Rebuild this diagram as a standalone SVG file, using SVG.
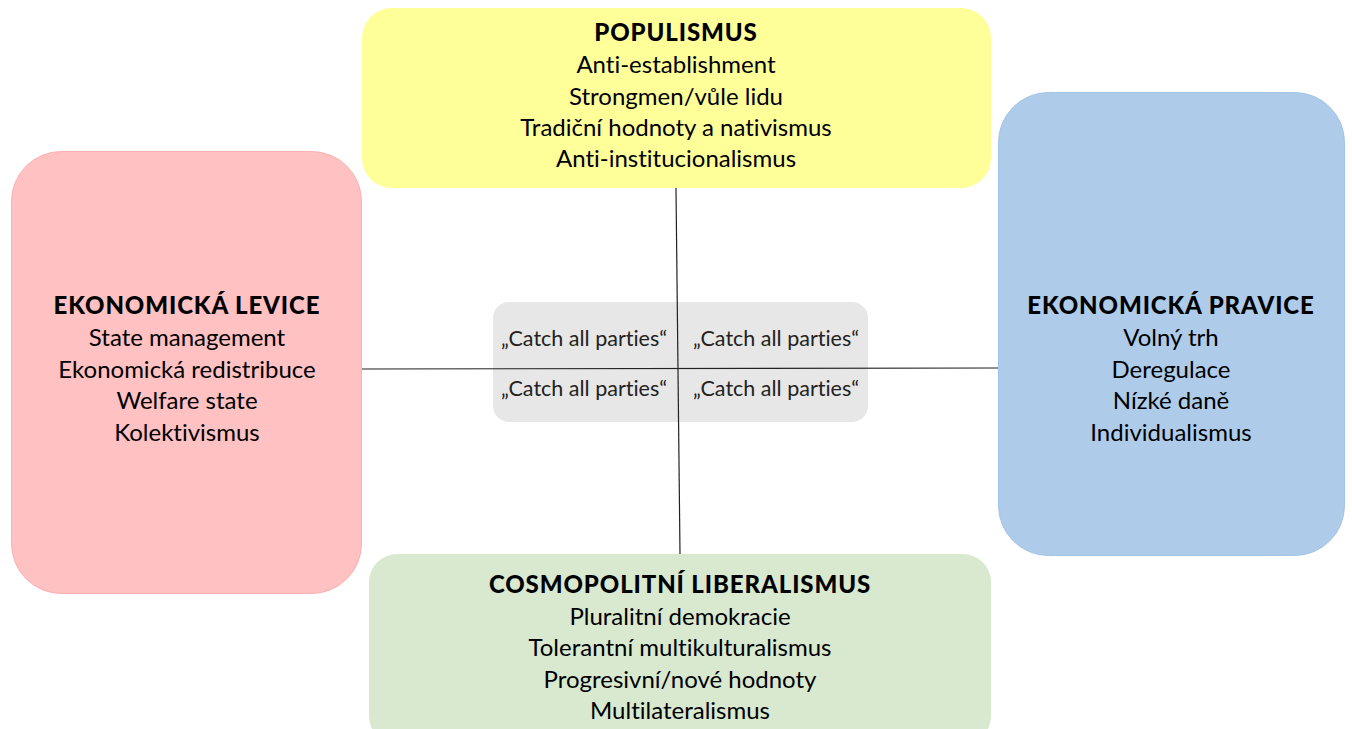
<svg xmlns="http://www.w3.org/2000/svg" width="1352" height="729" viewBox="0 0 1352 729">
<style>
text{font-variant-ligatures:none;font-feature-settings:"liga" 0,"dlig" 0}
.t{font-family:Lato,"Liberation Sans",sans-serif;font-weight:900;font-size:24px;fill:#000;text-anchor:middle;letter-spacing:0.9px}
.b{font-family:Lato,"Open Sans","Liberation Sans",sans-serif;font-size:24px;fill:#000;text-anchor:middle}
.c{font-family:Lato,"Open Sans","Liberation Sans",sans-serif;font-size:21.5px;fill:#222;text-anchor:middle}
.ln{stroke:#222;stroke-width:1.2;fill:none}
</style>
<rect width="1352" height="729" fill="#fff"/>
<g id="center">
<rect x="493" y="302" width="375" height="120" rx="16" fill="#E7E7E7"/>
<text class="c" x="584" y="346">„Catch all parties“</text>
<text class="c" x="776" y="346">„Catch all parties“</text>
<text class="c" x="584" y="396">„Catch all parties“</text>
<text class="c" x="776" y="396">„Catch all parties“</text>
</g>
<g id="connectors">
<line class="ln" x1="676" y1="188" x2="680" y2="554"/>
<line class="ln" x1="362" y1="369" x2="998" y2="368"/>
</g>
<g id="populismus">
<rect x="362" y="8" width="629" height="180" rx="30" fill="#FFFF9A"/>
<text class="t" x="676" y="41">POPULISMUS</text>
<text class="b" x="676" y="73">Anti-establishment</text>
<text class="b" x="676" y="105">Strongmen/vůle lidu</text>
<text class="b" x="676" y="136">Tradiční hodnoty a nativismus</text>
<text class="b" x="676" y="167">Anti-institucionalismus</text>
</g>
<g id="levice">
<rect x="11.5" y="151.5" width="350" height="442" rx="50" fill="#FFC1C1" stroke="#FBB0B0"/>
<text class="t" x="187" y="314">EKONOMICKÁ LEVICE</text>
<text class="b" x="187" y="346">State management</text>
<text class="b" x="187" y="378">Ekonomická redistribuce</text>
<text class="b" x="187" y="409">Welfare state</text>
<text class="b" x="187" y="441">Kolektivismus</text>
</g>
<g id="pravice">
<rect x="998.5" y="92.5" width="346" height="463" rx="50" fill="#AECCEA" stroke="#A2C4E6"/>
<text class="t" x="1171" y="314">EKONOMICKÁ PRAVICE</text>
<text class="b" x="1171" y="346">Volný trh</text>
<text class="b" x="1171" y="378">Deregulace</text>
<text class="b" x="1171" y="409">Nízké daně</text>
<text class="b" x="1171" y="441">Individualismus</text>
</g>
<g id="liberalismus">
<rect x="369" y="554" width="622" height="190" rx="28" fill="#D8E9D0"/>
<text class="t" x="680" y="593">COSMOPOLITNÍ LIBERALISMUS</text>
<text class="b" x="680" y="625">Pluralitní demokracie</text>
<text class="b" x="680" y="656">Tolerantní multikulturalismus</text>
<text class="b" x="680" y="688">Progresivní/nové hodnoty</text>
<text class="b" x="680" y="719">Multilateralismus</text>
</g>
</svg>
